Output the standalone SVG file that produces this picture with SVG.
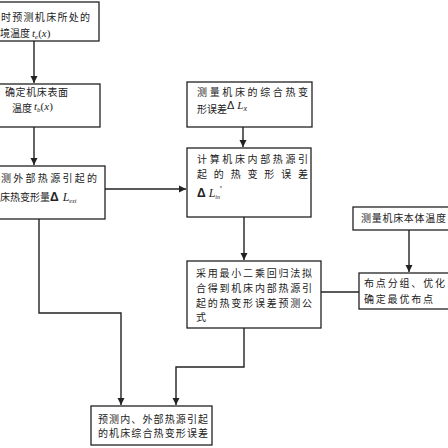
<svg xmlns="http://www.w3.org/2000/svg" width="448" height="448" viewBox="0 0 448 448">
<defs>
<style>
.box{fill:#fff;stroke:#222;stroke-width:1.3}
.t{font-family:"Noto Sans CJK SC","Noto Sans",sans-serif;font-size:10px;fill:#222}
.m{font-family:"Liberation Serif",serif;font-style:italic;fill:#222}
.c{fill:none;stroke:#222;stroke-width:1.4}
</style>
<marker id="ah" markerWidth="8" markerHeight="8" refX="7" refY="4" orient="auto" markerUnits="userSpaceOnUse">
<path d="M0,0.5 L7,4 L0,7.5 Z" fill="#222"/>
</marker>
</defs>
<rect width="448" height="448" fill="#fff"/>
<g id="connectors">
<line class="c" x1="34" y1="41" x2="34" y2="83" marker-end="url(#ah)"/>
<line class="c" x1="34" y1="127" x2="34" y2="165" marker-end="url(#ah)"/>
<line class="c" x1="105" y1="189" x2="186" y2="189" marker-end="url(#ah)"/>
<line class="c" x1="243" y1="127" x2="243" y2="147" marker-end="url(#ah)"/>
<line class="c" x1="244" y1="217" x2="244" y2="260" marker-end="url(#ah)"/>
<line class="c" x1="321" y1="292" x2="359" y2="292"/>
<polyline class="c" points="244,328 244,367 176,367 176,405" marker-end="url(#ah)"/>
<polyline class="c" points="39,219 39,313 121,313 121,405" marker-end="url(#ah)"/>
<line class="c" x1="409" y1="230" x2="409" y2="272" marker-end="url(#ah)"/>
</g>
<g id="n1">
<rect class="box" x="-5" y="2" width="104" height="39"/>
<text class="t" x="1" y="21" textLength="89" lengthAdjust="spacing">时预测机床所处的</text>
<text class="t" x="0" y="37">境温度<tspan class="m" dx="2" font-size="11">t</tspan><tspan class="m" font-size="7" dy="2">e</tspan><tspan font-family="Liberation Serif" font-size="11" dy="-2">(</tspan><tspan class="m" font-size="11">x</tspan><tspan font-family="Liberation Serif" font-size="11">)</tspan></text>
</g>
<g id="n2">
<rect class="box" x="-5" y="84" width="105" height="43"/>
<text class="t" x="5" y="96" textLength="63" lengthAdjust="spacing">确定机床表面</text>
<text class="t" x="12" y="112">温度<tspan class="m" dx="2" dy="-2" font-size="11">t</tspan><tspan class="m" font-size="7" dy="2">b</tspan><tspan font-family="Liberation Serif" font-size="11" dy="-2">(</tspan><tspan class="m" font-size="11">x</tspan><tspan font-family="Liberation Serif" font-size="11">)</tspan></text>
</g>
<g id="n3">
<rect class="box" x="-5" y="166" width="110" height="53"/>
<text class="t" x="1" y="182" textLength="96" lengthAdjust="spacing">测外部热源引起的</text>
<text class="t" x="0" y="201">床热变形量<tspan font-family="Liberation Sans" font-weight="bold" font-size="12">Δ</tspan><tspan class="m" dx="4" font-size="12">L</tspan><tspan class="m" font-size="6" dy="2">ext</tspan></text>
</g>
<g id="n4">
<rect class="box" x="187" y="82" width="125" height="45"/>
<text class="t" x="197" y="96" textLength="111" lengthAdjust="spacing">测量机床的综合热变</text>
<text class="t" x="197" y="113">形误差<tspan font-family="Liberation Sans" font-size="11" dy="-4">Δ</tspan><tspan class="m" dx="3" font-size="11">L</tspan><tspan class="m" font-size="8" dy="2">x</tspan></text>
</g>
<g id="n5">
<rect class="box" x="187" y="148" width="124" height="69"/>
<text class="t" x="197" y="163" textLength="111" lengthAdjust="spacing">计算机床内部热源引</text>
<text class="t" x="197" y="178" textLength="111" lengthAdjust="spacing">起的热变形误差</text>
<text x="197" y="197"><tspan font-family="Liberation Sans" font-weight="bold" font-size="12" fill="#222">Δ</tspan><tspan class="m" dx="3" font-size="12">L</tspan><tspan class="m" font-size="6" dy="2">in</tspan><tspan font-family="Liberation Serif" font-size="10" fill="#222" dy="-6">'</tspan></text>
</g>
<g id="n6">
<rect class="box" x="187" y="261" width="134" height="67"/>
<text class="t" x="196" y="277" textLength="116" lengthAdjust="spacing">采用最小二乘回归法拟</text>
<text class="t" x="196" y="292" textLength="116" lengthAdjust="spacing">合得到机床内部热源引</text>
<text class="t" x="196" y="307" textLength="116" lengthAdjust="spacing">起的热变形误差预测公</text>
<text class="t" x="196" y="321">式</text>
</g>
<g id="n7">
<rect class="box" x="91" y="406" width="121" height="39"/>
<text class="t" x="98" y="423" textLength="110" lengthAdjust="spacing">预测内、外部热源引起</text>
<text class="t" x="98" y="437" textLength="110" lengthAdjust="spacing">的机床综合热变形误差</text>
</g>
<g id="n8">
<rect class="box" x="353" y="207" width="102" height="23"/>
<text class="t" x="361" y="222" textLength="85" lengthAdjust="spacing">测量机床本体温度</text>
</g>
<g id="n9">
<rect class="box" x="359" y="273" width="96" height="36"/>
<text class="t" x="364" y="287" textLength="81" lengthAdjust="spacing">布点分组、优化</text>
<text class="t" x="364" y="303" textLength="69" lengthAdjust="spacing">确定最优布点</text>
</g>
</svg>
